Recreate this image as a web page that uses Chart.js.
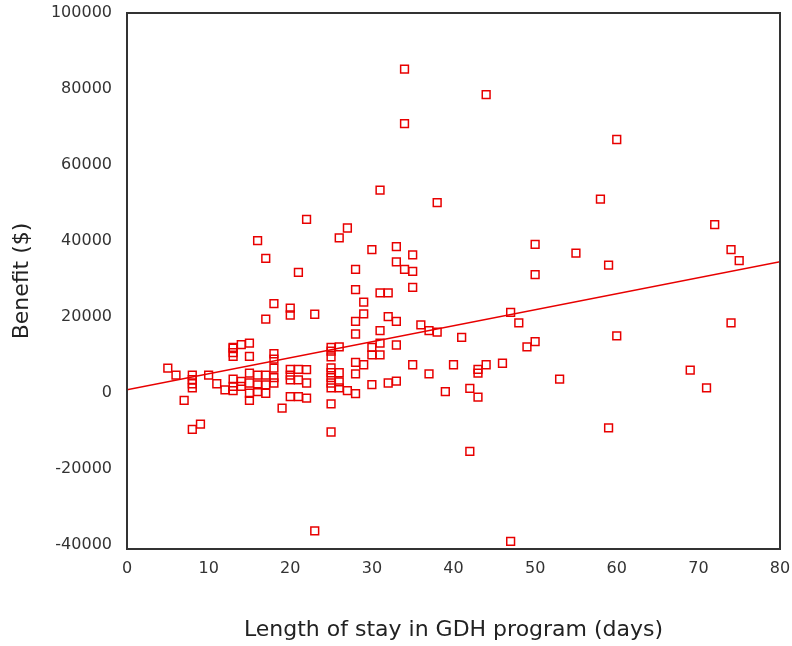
<!DOCTYPE html>
<html>
<head>
<meta charset="utf-8">
<script src="https://cdn.jsdelivr.net/npm/chart.js@4.4.1/dist/chart.umd.min.js"></script>
<style>
html, body { margin: 0; padding: 0; background: #fff; }
</style>
</head>
<body>
<canvas id="benefitChart" width="792" height="646"></canvas>
<script>
// length of stay (days) and benefit ($), one entry per patient
const stayDays = [
  5, 6, 7, 8, 8, 8, 8, 8, 9, 10, 11, 12, 13, 13, 13, 13, 13, 13, 13,
  14, 14, 14, 15, 15, 15, 15, 15, 15, 16, 16, 16, 16, 17, 17, 17, 17, 17,
  18, 18, 18, 18, 18, 18, 19, 20, 20, 20, 20, 20, 20, 21, 21, 21, 21,
  22, 22, 22, 22, 23, 23, 25, 25, 25, 25, 25, 25, 25, 25, 25, 25,
  26, 26, 26, 26, 26, 27, 27, 28, 28, 28, 28, 28, 28, 28, 29, 29, 29,
  30, 30, 30, 30, 31, 31, 31, 31, 31, 32, 32, 32, 33, 33, 33, 33, 33,
  34, 34, 34, 35, 35, 35, 35, 36, 37, 37, 38, 38, 39, 40, 41, 42, 42,
  43, 43, 43, 44, 44, 46, 47, 47, 48, 49, 50, 50, 50, 53, 55, 58, 59, 59,
  60, 60, 69, 71, 72, 74, 74, 75
];
const benefit = [
  6500, 4700, -2000, 4700, 3500, 2400, 1300, -9600, -8200, 4700, 2400, 800, 600, 3600, 1700, 11800, 10600, 9600, 12000,
  12700, 3000, 1700, 13100, 9600, 5200, 2600, -100, -2000, 4700, 2100, 300, 40100, 4700, 2100, -100, 35400, 19400,
  23500, 10300, 8900, 6500, 2600, 4000, -4000, 22300, 20500, 6200, 4700, 3400, -1000, 31700, 6200, 3400, -1000,
  45700, 6100, 2600, -1400, 20700, -36300, 12000, 9500, 6600, 5300, 4000, 2600, 1300, -2900, -10300, 11000,
  12100, 5300, 2900, 1300, 40800, 600, 43400, 32500, 27200, 18800, 15500, 8000, 5000, -200, 23900, 20800, 7400,
  37700, 12000, 10000, 2200, 53400, 26300, 16400, 13100, 10000, 26300, 20100, 2600, 38500, 34500, 18800, 12600, 3100,
  85200, 70900, 32500, 36300, 32000, 27800, 7400, 17900, 16400, 5000, 50100, 16000, 300, 7400, 14600, 1200, -15400,
  6200, 5200, -1100, 78500, 7400, 7800, 21200, -39100, 18400, 12100, 39100, 31100, 13500, 3600, 36800, 51000, 33600, -9200,
  66700, 15000, 6000, 1300, 44300, 37700, 18400, 34800
];

// fitted regression line, read at both ends of the x axis
const fitDays = [0, 80];
const fitBenefit = [800, 34500];

const xTickValues = [0, 10, 20, 30, 40, 50, 60, 70, 80];
const yTickValues = [-40000, -20000, 0, 20000, 40000, 60000, 80000, 100000];

const red = '#e80000';
const fontFamily = "'DejaVu Sans', sans-serif";

const points = stayDays.map((d, i) => ({ x: d, y: benefit[i] }));
const fitLine = fitDays.map((d, i) => ({ x: d, y: fitBenefit[i] }));

// box around the plot area
const framePlugin = {
  id: 'frame',
  afterDatasetsDraw(chart) {
    const { ctx, chartArea: a } = chart;
    ctx.save();
    ctx.strokeStyle = '#333333';
    ctx.lineWidth = 2;
    ctx.strokeRect(a.left, a.top, a.right - a.left, a.bottom - a.top);
    ctx.restore();
  }
};

const ctx = document.getElementById('benefitChart').getContext('2d');

new Chart(ctx, {
  type: 'scatter',
  data: {
    datasets: [{
      label: 'Patients',
      data: points,
      pointStyle: 'rect',
      pointRadius: 5.5,
      borderColor: red,
      backgroundColor: 'rgba(0,0,0,0)',
      borderWidth: 1.5
    }, {
      label: 'Fit',
      data: fitLine,
      showLine: true,
      pointRadius: 0,
      borderColor: red,
      borderWidth: 1.5
    }]
  },
  options: {
    responsive: false,
    animation: false,
    layout: {
      padding: { left: 0, right: 12, top: 13, bottom: 0 }
    },
    plugins: {
      legend: { display: false },
      tooltip: { enabled: false }
    },
    scales: {
      x: {
        type: 'linear',
        min: 0,
        max: 80,
        afterBuildTicks: function (scale) {
          scale.ticks = xTickValues.map(v => ({ value: v }));
        },
        afterFit: function (scale) {
          scale.height = 97;
          // no extra room for the end labels
          scale.paddingLeft = 0;
          scale.paddingRight = 0;
        },
        grid: { display: false, drawTicks: false },
        border: { display: false },
        ticks: {
          padding: 10,
          color: '#333333',
          font: { family: fontFamily, size: 16 }
        },
        title: {
          display: true,
          text: 'Length of stay in GDH program (days)',
          color: '#222222',
          font: { family: fontFamily, size: 22 },
          padding: { top: 0, bottom: 3 }
        }
      },
      y: {
        type: 'linear',
        min: -41100,
        max: 100000,
        afterBuildTicks: function (scale) {
          scale.ticks = yTickValues.map(v => ({ value: v }));
        },
        afterFit: function (scale) {
          scale.width = 127;
          scale.paddingTop = 0;
          scale.paddingBottom = 0;
        },
        grid: { display: false, drawTicks: false },
        border: { display: false },
        ticks: {
          padding: 15,
          color: '#333333',
          font: { family: fontFamily, size: 16 },
          callback: function (value) {
            return String(value);
          }
        },
        title: {
          display: true,
          text: 'Benefit ($)',
          color: '#222222',
          font: { family: fontFamily, size: 22 },
          padding: { top: 9, bottom: 0 }
        }
      }
    }
  },
  plugins: [framePlugin]
});
</script>
</body>
</html>
